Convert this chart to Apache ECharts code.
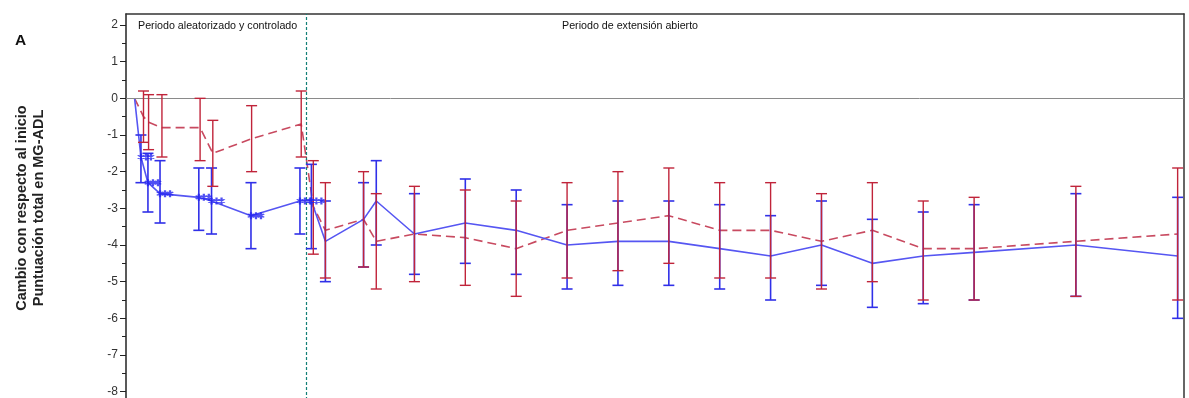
<!DOCTYPE html>
<html><head><meta charset="utf-8">
<script src="https://cdn.jsdelivr.net/npm/echarts@6/dist/echarts.min.js"></script>
<style>html,body{margin:0;padding:0;background:#fff}#c{width:1189px;height:398px}</style>
</head><body><div id="c"></div>
<script>
// x positions (weeks)
const rcpWeeksBlue = [0, 1.0, 2.1, 4.0, 10.1, 12.1, 18.3, 26.0, 27.8];
const rcpWeeksRed  = [0, 1.4, 2.2, 4.3, 10.3, 12.3, 18.4, 26.2, 28.1];
const oleWeeks = [30, 36, 38, 44, 52, 60, 68, 76, 84, 92, 100, 108, 116, 124, 132, 148, 164];

// Blue (solid) group
const blueRcp     = [0, -1.6, -2.3, -2.6, -2.7, -2.8, -3.2, -2.8, -2.8];
const blueRcpHigh = [null, -1.0, -1.5, -1.7, -1.9, -1.9, -2.3, -1.9, -1.8];
const blueRcpLow  = [null, -2.3, -3.1, -3.4, -3.6, -3.7, -4.1, -3.7, -4.1];
const blueOle     = [-3.9, -3.3, -2.8, -3.7, -3.4, -3.6, -4.0, -3.9, -3.9, -4.1, -4.3, -4.0, -4.5, -4.3, -4.2, -4.0, -4.3];
const blueOleHigh = [-2.8, -2.3, -1.7, -2.6, -2.2, -2.5, -2.9, -2.8, -2.8, -2.9, -3.2, -2.8, -3.3, -3.1, -2.9, -2.6, -2.7];
const blueOleLow  = [-5.0, -4.6, -4.0, -4.8, -4.5, -4.8, -5.2, -5.1, -5.1, -5.2, -5.5, -5.1, -5.7, -5.6, -5.5, -5.4, -6.0];

// Red (dashed) group
const redRcp     = [0, -0.5, -0.65, -0.8, -0.8, -1.5, -1.1, -0.7, -2.95];
const redRcpHigh = [null, 0.2, 0.1, 0.1, 0.0, -0.6, -0.2, 0.2, -1.7];
const redRcpLow  = [null, -1.2, -1.4, -1.6, -1.7, -2.4, -2.0, -1.6, -4.25];
const redOle     = [-3.6, -3.3, -3.9, -3.7, -3.8, -4.1, -3.6, -3.4, -3.2, -3.6, -3.6, -3.9, -3.6, -4.1, -4.1, -3.9, -3.7];
const redOleHigh = [-2.3, -2.0, -2.6, -2.4, -2.5, -2.8, -2.3, -2.0, -1.9, -2.3, -2.3, -2.6, -2.3, -2.8, -2.7, -2.4, -1.9];
const redOleLow  = [-4.9, -4.6, -5.2, -5.0, -5.1, -5.4, -4.9, -4.7, -4.5, -4.9, -4.9, -5.2, -5.0, -5.5, -5.5, -5.4, -5.5];

const yTickLabels = [-8, -7, -6, -5, -4, -3, -2, -1, 0, 1, 2];
const yMinorTicks = [-7.5, -6.5, -5.5, -4.5, -3.5, -2.5, -1.5, -0.5, 0.5, 1.5];
const periodBoundary = 27;
const textRcp = 'Periodo aleatorizado y controlado';
const textOle = 'Periodo de extensión abierto';
const yTitle = 'Cambio con respecto al inicio\nPuntuación total en MG-ADL';
const panelLabel = 'A';

const BLUE_LINE = '#5656f2', BLUE_BAR = '#3030e8';
const RED_LINE = '#c84a60', RED_BAR = '#c0243a';

function zip(xs, ys) { return xs.map((x, i) => [x, ys[i]]); }
const blueWeeks = rcpWeeksBlue.concat(oleWeeks);
const redWeeks = rcpWeeksRed.concat(oleWeeks);
const blueLine = zip(blueWeeks, blueRcp.concat(blueOle));
const redLine = zip(redWeeks, redRcp.concat(redOle));
function bars(xs, lo, hi) {
  const out = [];
  xs.forEach((x, i) => { if (lo[i] != null) out.push([x, lo[i], hi[i]]); });
  return out;
}
const blueBars = bars(blueWeeks, blueRcpLow.concat(blueOleLow), blueRcpHigh.concat(blueOleHigh));
const redBars = bars(redWeeks, redRcpLow.concat(redOleLow), redRcpHigh.concat(redOleHigh));
const blueMarkers = zip(rcpWeeksBlue, blueRcp).slice(1);

function errRender(color, w) {
  return function (params, api) {
    const x = api.value(0), lo = api.value(1), hi = api.value(2);
    const p1 = api.coord([x, lo]), p2 = api.coord([x, hi]);
    const hw = 5.5;
    const style = { stroke: color, lineWidth: w, fill: null };
    return { type: 'group', children: [
      { type: 'line', shape: { x1: p1[0], y1: p1[1], x2: p2[0], y2: p2[1] }, style },
      { type: 'line', shape: { x1: p1[0] - hw, y1: p1[1], x2: p1[0] + hw, y2: p1[1] }, style },
      { type: 'line', shape: { x1: p2[0] - hw, y1: p2[1], x2: p2[0] + hw, y2: p2[1] }, style }
    ]};
  };
}

let ast = '';
[0, 5, 10].forEach(cx => {
  ast += `M${cx},-3.5L${cx},3.5M${cx-3},-1.75L${cx+3},1.75M${cx-3},1.75L${cx+3},-1.75`;
});

const FONT = '"Liberation Sans", Arial, sans-serif';
const chart = echarts.init(document.getElementById('c'), null, { renderer: 'canvas' });
chart.setOption({
  animation: false,
  backgroundColor: '#fff',
  grid: { left: 126, right: 5, top: 14, height: 396, outerBoundsMode: 'none', containLabel: false },
  xAxis: [
    { type: 'value', min: -1.35, max: 165, show: false },
    { type: 'value', min: -1.35, max: 165, position: 'top',
      axisLine: { show: true, onZero: false, lineStyle: { color: '#333', width: 1.5 } },
      axisTick: { show: false }, axisLabel: { show: false }, splitLine: { show: false } }
  ],
  yAxis: [
    { type: 'value', min: -8.5, max: 2.3, position: 'left',
      axisLine: { show: true, onZero: false, lineStyle: { color: '#222', width: 1.5 } },
      axisTick: { show: true, length: 6, customValues: yTickLabels, lineStyle: { color: '#222', width: 1 } },
      axisLabel: { customValues: yTickLabels, margin: 8, fontSize: 12, color: '#333', fontFamily: FONT },
      splitLine: { show: false } },
    { type: 'value', min: -8.5, max: 2.3, position: 'left',
      axisLine: { show: false, onZero: false },
      axisTick: { show: true, length: 4, customValues: yMinorTicks, lineStyle: { color: '#222', width: 1 } },
      axisLabel: { show: false }, splitLine: { show: false } },
    { type: 'value', min: -8.5, max: 2.3, position: 'right',
      axisLine: { show: true, onZero: false, lineStyle: { color: '#333', width: 1.5 } },
      axisTick: { show: false }, axisLabel: { show: false }, splitLine: { show: false } }
  ],
  series: [
    { type: 'line', data: redLine, symbol: 'none', z: 3,
      lineStyle: { color: RED_LINE, width: 1.6, type: [9, 5] },
      markLine: { silent: true, symbol: 'none', label: { show: false },
        data: [
          { yAxis: 0, lineStyle: { color: '#8a8a8a', width: 1, type: 'solid' } },
          { xAxis: periodBoundary, lineStyle: { color: '#127f76', width: 1.2, type: [3, 2] } }
        ] } },
    { type: 'line', data: blueLine, symbol: 'none', z: 4,
      lineStyle: { color: BLUE_LINE, width: 1.6 } },
    { type: 'custom', data: blueBars, renderItem: errRender(BLUE_BAR, 1.6), z: 5 },
    { type: 'custom', data: redBars, renderItem: errRender(RED_BAR, 1.4), z: 6 },
    { type: 'scatter', data: blueMarkers, z: 7, symbol: 'path://' + ast, symbolSize: [16, 7], symbolOffset: [5, 0],
      itemStyle: { color: 'none', borderColor: '#2424f0', borderWidth: 1.5 } }
  ],
  graphic: [
    { type: 'text', x: 138, y: 26, style: { text: textRcp, font: '10.7px ' + FONT, fill: '#111', textVerticalAlign: 'middle', verticalAlign: 'middle' } },
    { type: 'text', x: 562, y: 26, style: { text: textOle, font: '10.7px ' + FONT, fill: '#111', textVerticalAlign: 'middle', verticalAlign: 'middle' } },
    { type: 'text', x: 15, y: 41, style: { text: panelLabel, font: 'bold 15.5px ' + FONT, fill: '#111', textVerticalAlign: 'middle', verticalAlign: 'middle' } },
    { type: 'text', x: 30.5, y: 208, rotation: Math.PI / 2,
      style: { text: yTitle, font: 'bold 14.5px ' + FONT, fill: '#222', lineHeight: 16.5,
        textAlign: 'center', align: 'center', textVerticalAlign: 'middle', verticalAlign: 'middle' } }
  ]
});
</script></body></html>
